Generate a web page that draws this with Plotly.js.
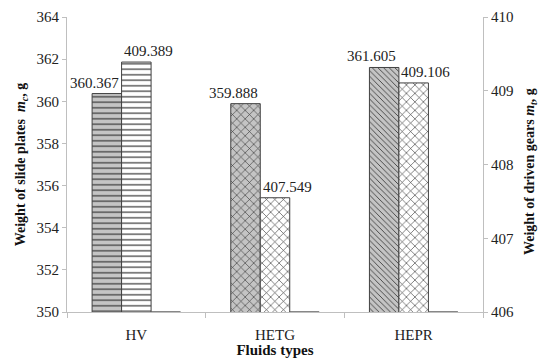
<!DOCTYPE html>
<html><head><meta charset="utf-8">
<script src="https://cdn.plot.ly/plotly-3.0.1.min.js"></script>
<style>html,body{margin:0;padding:0;background:#fff}#chart{width:539px;height:358px}</style>
</head><body><div id="chart"></div>
<script>
const categories = ['HV', 'HETG', 'HEPR'];
const slidePlates = [360.367, 359.888, 361.605];   // left axis, m_c (g)
const drivenGears = [409.389, 407.549, 409.106];   // right axis, m_t (g)
const emptySeries = [0, 0, 0];
const leftTicks = [350, 352, 354, 356, 358, 360, 362, 364];
const rightTicks = [406, 407, 408, 409, 410];

const font = 'Liberation Serif';
const edge = {color: '#404040', width: 1};

const traces = [
  {type: 'bar', x: categories, y: slidePlates, yaxis: 'y', offsetgroup: '1',
   marker: {color: '#c0c0c0', line: edge,
     pattern: {shape: ['-', 'x', '\\'], bgcolor: '#c4c4c4', fgcolor: '#3a3a3a', size: [5.5, 6, 4], solidity: [0.22, 0.2, 0.22], fillmode: 'replace'}},
   hoverinfo: 'none'},
  {type: 'bar', x: categories, y: drivenGears, yaxis: 'y2', offsetgroup: '2',
   marker: {color: '#ffffff', line: edge,
     pattern: {shape: ['-', 'x', 'x'], bgcolor: '#ffffff', fgcolor: '#3a3a3a', size: [5.5, 6, 6], solidity: [0.22, 0.2, 0.2], fillmode: 'replace'}},
   hoverinfo: 'none'},
  {type: 'bar', x: categories, y: emptySeries, base: rightTicks[0], yaxis: 'y2', offsetgroup: '3',
   marker: {color: '#808080', line: {color: '#606060', width: 1.5}}, hoverinfo: 'none'}
];

const annotations = [];
slidePlates.forEach((v, i) => annotations.push({x: i, y: v, xref: 'x', yref: 'y', text: v.toFixed(3),
  showarrow: false, yanchor: 'bottom', xanchor: 'center', xshift: -42, yshift: 1, font: {family: font, size: 15, color: '#222'}}));
drivenGears.forEach((v, i) => annotations.push({x: i, y: v, xref: 'x', yref: 'y2', text: v.toFixed(3),
  showarrow: false, yanchor: 'bottom', xanchor: 'center', xshift: 12, yshift: 1, font: {family: font, size: 15, color: '#222'}}));
// right axis title
annotations.push({xref: 'paper', yref: 'paper', x: 1, y: 0.5, xanchor: 'left', yanchor: 'middle',
  xshift: 37, yshift: -7, textangle: -90, showarrow: false,
  text: '<b>Weight of driven gears <i>m<sub>t</sub></i>, g</b>', font: {family: font, size: 14, color: '#111'}});

const layout = {
  width: 539, height: 358,
  margin: {l: 67, r: 56, t: 17, b: 46},
  paper_bgcolor: '#fff', plot_bgcolor: '#fff',
  showlegend: false,
  barmode: 'group', bargap: 0.362, bargroupgap: 0,
  font: {family: font, size: 15, color: '#222'},
  xaxis: {type: 'category', showline: true, linecolor: '#bfbfbf', linewidth: 1,
    ticks: 'outside', tickson: 'boundaries', ticklen: 5, tickcolor: '#bfbfbf',
    ticklabelstandoff: 9,
    tickfont: {family: font, size: 15, color: '#222'},
    title: {text: '<b>Fluids types</b>', font: {family: font, size: 15, color: '#111'}, standoff: 0}},
  yaxis: {range: [350, 364], tickvals: leftTicks, showgrid: false, zeroline: false,
    showline: true, linecolor: '#bfbfbf', ticks: 'outside', ticklen: 4, tickcolor: '#bfbfbf',
    tickfont: {family: font, size: 15, color: '#222'},
    title: {text: '<b>Weight of slide plates  <i>m<sub>c</sub></i>, g</b>', font: {family: font, size: 14, color: '#111'}, standoff: 7}},
  yaxis2: {range: [406, 410], tickvals: rightTicks, overlaying: 'y', side: 'right', showgrid: false, zeroline: false,
    showline: true, linecolor: '#bfbfbf', ticks: 'outside', ticklen: 4, tickcolor: '#bfbfbf',
    tickfont: {family: font, size: 15, color: '#222'}},
  annotations: annotations
};

Plotly.newPlot('chart', traces, layout, {staticPlot: true, displayModeBar: false});
</script></body></html>
